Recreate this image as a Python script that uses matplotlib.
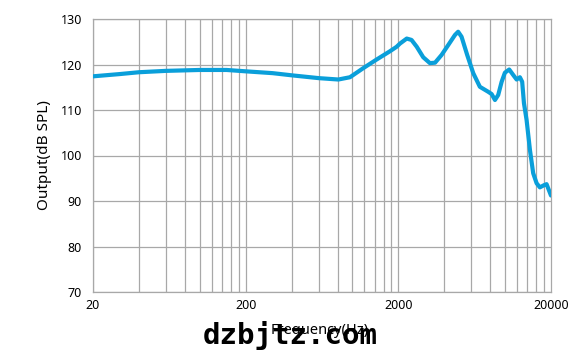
import numpy as np
import matplotlib.pyplot as plt
from matplotlib.ticker import FixedLocator, NullFormatter

# values
freq = [20, 30, 40, 60, 100, 150, 200, 300, 406, 604, 809, 964, 1179, 1442, 1760,
        1950, 2050, 2270, 2440, 2640, 2910, 3220, 3480, 3840, 4250, 4700, 4930,
        5190, 5650, 6190, 6840, 7760, 8170, 8590, 9020, 9500, 9980, 10650, 11310,
        11910, 12510, 12950, 13300, 13840, 14560, 15290, 16100, 16910, 18060,
        18710, 20000]
spl = [117.4, 117.9, 118.3, 118.6, 118.8, 118.8, 118.5, 118.1, 117.6, 117.0, 116.7,
       117.2, 119.2, 121.1, 122.9, 123.9, 124.6, 125.7, 125.4, 123.9, 121.6, 120.3,
       120.4, 122.1, 124.3, 126.5, 127.2, 126.1, 122.1, 118.1, 115.1, 114.0, 113.5,
       112.2, 113.3, 116.2, 118.2, 118.9, 117.7, 116.7, 117.2, 116.2, 111.5, 107.8,
       101.2, 96.1, 93.9, 93.0, 93.5, 93.7, 91.2]

major_ticks = [20, 200, 2000, 20000]
y_ticks = [70, 80, 90, 100, 110, 120, 130]

plt.rcParams['font.family'] = ['Noto Sans', 'DejaVu Sans']

fig = plt.figure(figsize=(5.84, 3.56), dpi=100)
ax = fig.add_axes([93 / 584, 1 - 292 / 356, 458 / 584, 273 / 356])

ax.plot(freq, spl, color='#0a9fda', lw=3.0, solid_capstyle='round',
        solid_joinstyle='round', zorder=3)

ax.set_xscale('log')
ax.set_xlim(20, 20000)
ax.set_ylim(70, 130)

grid_x = [m * 10 ** k for k in range(1, 4) for m in (2, 4, 6, 8, 10, 12, 14, 16, 18)]
ax.xaxis.set_major_locator(FixedLocator(major_ticks))
ax.xaxis.set_minor_locator(FixedLocator(grid_x))
ax.xaxis.set_minor_formatter(NullFormatter())
ax.set_xticklabels([str(t) for t in major_ticks])
ax.set_yticks(y_ticks)

gc = '#a8a8a8'
for gx in grid_x:
    ax.axvline(gx, color=gc, lw=0.9, zorder=1)
for gy in y_ticks:
    ax.axhline(gy, color=gc, lw=0.9, zorder=1)

for s in ax.spines.values():
    s.set_color(gc)
    s.set_linewidth(0.9)

ax.tick_params(which='both', length=0, labelsize=9, colors='black')
ax.tick_params(axis='y', pad=8)
ax.tick_params(axis='x', pad=5)

ax.set_ylabel('Output(dB SPL)', fontsize=11, labelpad=6)
# axis title and the site watermark overlap in the reference too
fig.text(320 / 584, 1 - 330 / 356, 'Frequency(Hz)', fontsize=10.5,
         ha='center', va='center')
fig.text(290 / 584, 1 - 335 / 356, 'dzbjtz.com', fontsize=21, fontweight='bold',
         family='DejaVu Sans Mono', ha='center', va='center', color='black')

fig.savefig('out.png', dpi=100)
